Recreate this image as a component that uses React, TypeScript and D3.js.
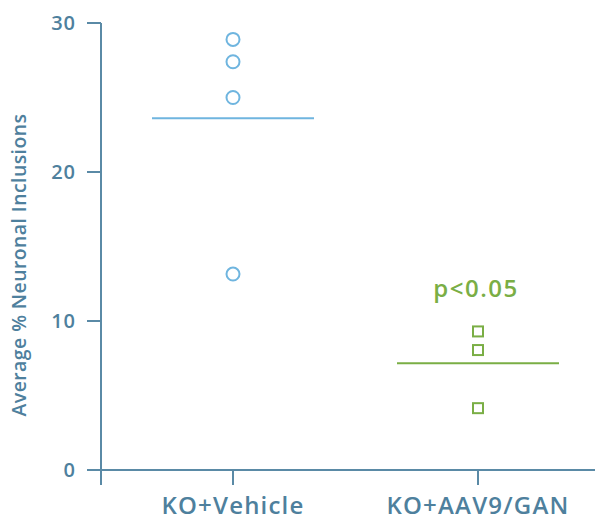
import React from "react";
import * as d3 from "d3";

const categories = ["KO+Vehicle", "KO+AAV9/GAN"];
const vehicleValues = [28.9, 27.4, 25.0, 13.15];
const aavValues = [9.3, 8.05, 4.15];
const yTicks = [0, 10, 20, 30];
const pLabel = "p<0.05";
const yLabel = "Average % Neuronal Inclusions";

const W = 595;
const H = 525;
const AXIS = "#5a8aa6";
const TEXT = "#4e809d";
const BLUE = "#6fb5df";
const GREEN = "#7aae45";
const FONT = "'Open Sans', sans-serif";

export default function App() {
  const x0 = 101;
  const y = d3.scaleLinear().domain([0, 30]).range([470, 23]);
  const x = d3.scalePoint<string>().domain(categories).range([233, 478]);
  const mean = (a: number[]) => d3.mean(a) as number;
  const halfLine = 81;

  const xv = x(categories[0]) as number;
  const xa = x(categories[1]) as number;

  return (
    <svg width={W} height={H} style={{ position: "absolute", left: 0, top: 0 }}>
      {/* y axis */}
      <line x1={x0} x2={x0} y1={y(30)} y2={485} stroke={AXIS} strokeWidth={2} />
      {yTicks.map((t) => (
        <g key={t}>
          <line x1={87} x2={x0} y1={y(t)} y2={y(t)} stroke={AXIS} strokeWidth={2} />
          <text x={76} y={y(t)} dy="0.35em" textAnchor="end" fill={TEXT} fontFamily={FONT} fontSize={20} fontWeight={600} letterSpacing={1}>
            {t}
          </text>
        </g>
      ))}
      {/* x axis */}
      <line x1={87} x2={W} y1={y(0)} y2={y(0)} stroke={AXIS} strokeWidth={2} />
      {categories.map((c) => (
        <g key={c}>
          <line x1={x(c)} x2={x(c)} y1={y(0)} y2={485} stroke={AXIS} strokeWidth={2} />
          <text x={x(c)} y={514} textAnchor="middle" fill={TEXT} fontFamily={FONT} fontSize={24} fontWeight={600} letterSpacing={1.2}>
            {c}
          </text>
        </g>
      ))}
      <text
        transform={`translate(26, 265) rotate(-90)`}
        textAnchor="middle"
        fill={TEXT}
        fontFamily={FONT}
        fontSize={19.5}
        fontWeight={600}
        letterSpacing={0.4}
      >
        {yLabel}
      </text>
      {/* vehicle */}
      <line x1={xv - halfLine} x2={xv + halfLine} y1={y(mean(vehicleValues))} y2={y(mean(vehicleValues))} stroke={BLUE} strokeWidth={2} />
      {vehicleValues.map((v, i) => (
        <circle key={i} cx={xv} cy={y(v)} r={6.5} fill="none" stroke={BLUE} strokeWidth={2} />
      ))}
      {/* AAV */}
      <line x1={xa - halfLine} x2={xa + halfLine} y1={y(mean(aavValues))} y2={y(mean(aavValues))} stroke={GREEN} strokeWidth={2} />
      {aavValues.map((v, i) => (
        <rect key={i} x={xa - 5} y={y(v) - 5} width={10} height={10} fill="none" stroke={GREEN} strokeWidth={2} />
      ))}
      <text x={xa - 2} y={297} textAnchor="middle" fill={GREEN} fontFamily={FONT} fontSize={24} fontWeight={600} letterSpacing={1.5}>
        {pLabel}
      </text>
    </svg>
  );
}
